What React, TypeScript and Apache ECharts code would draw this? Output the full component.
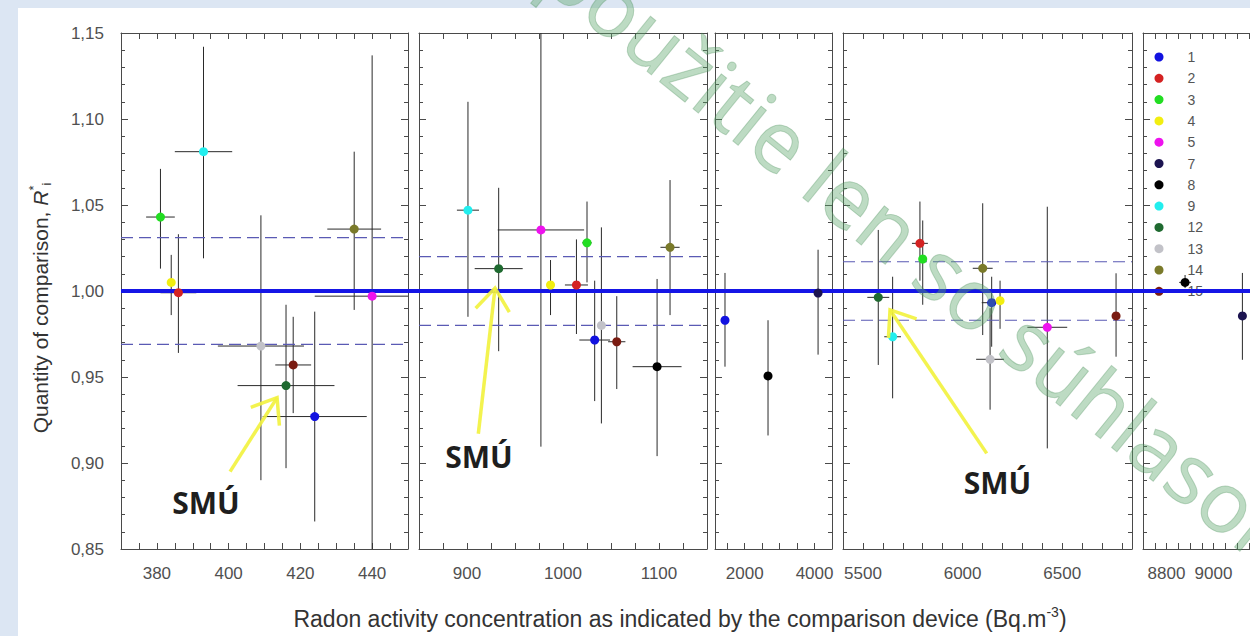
import React, { useEffect, useRef } from "react";
import * as echarts from "echarts";

// ---------------- DATA ----------------
const LABS = ["1", "2", "3", "4", "5", "7", "8", "9", "12", "13", "14", "15"];
const LAB_COLORS: Record<string, string> = {
  "1": "#1212e0",
  "2": "#d42222",
  "3": "#22dd22",
  "4": "#f2ee10",
  "5": "#ee12ee",
  "7": "#1c1450",
  "8": "#000000",
  "9": "#22eeee",
  "12": "#1f6a30",
  "13": "#c2c2c8",
  "14": "#7a7a2a",
  "15": "#7a1c12",
};

// [lab, x, R*, x-uncertainty, R* lower, R* upper]
type Pt = [string, number, number, number, number, number];

const PANEL_1: Pt[] = [
  ["3", 381, 1.043, 4, 1.013, 1.071],
  ["4", 384, 1.005, 0, 0.986, 1.021],
  ["2", 386, 0.999, 5, 0.964, 1.033],
  ["9", 393, 1.081, 8, 1.019, 1.142],
  ["13", 409, 0.968, 12, 0.89, 1.044],
  ["12", 416, 0.945, 13.5, 0.897, 0.992],
  ["15", 418, 0.957, 5, 0.929, 0.985],
  ["1", 424, 0.927, 14.5, 0.866, 0.988],
  ["14", 435, 1.036, 7.5, 0.989, 1.081],
  ["5", 440, 0.997, 16, 0.84, 1.137],
];

const PANEL_2: Pt[] = [
  ["9", 901, 1.047, 11.5, 0.985, 1.11],
  ["12", 933, 1.013, 25, 0.965, 1.06],
  ["5", 977, 1.0355, 45, 0.9095, 1.16],
  ["4", 987, 1.0035, 0, 0.986, 1.018],
  ["2", 1014, 1.0035, 12, 0.975, 1.03],
  ["3", 1025, 1.028, 5, 1.005, 1.052],
  ["1", 1033, 0.9715, 16, 0.936, 1.006],
  ["13", 1040, 0.98, 0, 0.923, 1.037],
  ["15", 1056, 0.9705, 9, 0.943, 0.997],
  ["8", 1098, 0.956, 25.5, 0.904, 1.007],
  ["14", 1111.5, 1.0254, 10, 0.986, 1.0645],
];

const PANEL_3: Pt[] = [
  ["1", 1436, 0.983, 60, 0.956, 1.0105],
  ["8", 2668, 0.9506, 0, 0.916, 0.983],
  ["7", 4101, 0.9988, 0, 0.963, 1.024],
];

const PANEL_4: Pt[] = [
  ["12", 5577, 0.9963, 55, 0.957, 1.0355],
  ["9", 5649, 0.9734, 42, 0.9376, 1.0083],
  ["2", 5786, 1.0277, 40, 1.006, 1.052],
  ["3", 5800, 1.0186, 0, 0.992, 1.041],
  ["14", 6101, 1.0132, 50, 0.9744, 1.051],
  ["13", 6138, 0.9603, 70, 0.931, 0.99],
  ["1", 6146, 0.9932, 50, 0.9676, 1.0083],
  ["4", 6188, 0.9944, 0, 0.978, 1.006],
  ["5", 6425, 0.9789, 100, 0.9085, 1.049],
  ["15", 6770, 0.9855, 0, 0.9618, 1.0103],
];

const PANEL_5: Pt[] = [
  ["8", 8879, 1.005, 25, 1.0017, 1.0093],
  ["7", 9123, 0.9855, 0, 0.96, 1.0105],
];

const PANELS = [PANEL_1, PANEL_2, PANEL_3, PANEL_4, PANEL_5];

// x-axis ranges / ticks of the broken axis
const X_MIN = [370, 850, 1150, 5400, 8700];
const X_MAX = [450, 1150, 4500, 6850, 10000];
const X_TICK_STEP = [5, 25, 0, 100, 50];
const X_LABELS = [
  [380, 400, 420, 440],
  [900, 1000, 1100],
  [2000, 4000],
  [5500, 6000, 6500],
  [8800, 9000],
];

const Y_MIN = 0.85;
const Y_MAX = 1.15;
const Y_STEP = 0.05;

const REFERENCE_VALUE = 1.0;
const LIMITS: (number[] | null)[] = [
  [0.969, 1.031],
  [0.98, 1.02],
  null,
  [0.983, 1.017],
  null,
];

// [panel, tailX, tailY, tipX, tipY, labelX, labelY]
const SMU_ARROWS = [
  [0, 400.4, 0.895, 413.5, 0.938, 393.7, 0.877],
  [1, 911.8, 0.917, 929.2, 1.0017, 912.5, 0.9035],
  [3, 6121, 0.9056, 5636, 0.989, 6175, 0.8884],
];
const SMU_TEXT = "SMÚ";

// ---------------- LAYOUT / STYLE ----------------
const GRID_LEFT = [121, 419, 715, 843, 1143];
const GRID_WIDTH = [287, 288, 117, 289, 305.5];
const GRID_TOP = 33;
const GRID_HEIGHT = 516;
const AXIS_COLOR = "#4a4a4a";
const LABEL_COLOR = "#505050";
const FONT = "'Liberation Sans', Arial, sans-serif";

function buildOption() {
  const grid: any[] = [];
  const xAxis: any[] = [];
  const yAxis: any[] = [];
  const series: any[] = [];

  PANELS.forEach((pts, i) => {
    grid.push({
      left: GRID_LEFT[i],
      top: GRID_TOP,
      width: GRID_WIDTH[i],
      height: GRID_HEIGHT,
      containLabel: false,
      outerBoundsMode: "none",
    });
    const step = X_TICK_STEP[i];
    const xCommon: any = {
      type: "value",
      gridIndex: i,
      min: X_MIN[i],
      max: X_MAX[i],
      ...(step ? { interval: step } : { splitNumber: 7 }),
      splitLine: { show: false },
      axisLine: { show: true, onZero: false, lineStyle: { color: AXIS_COLOR, width: 1 } },
      axisTick: { show: true, inside: true, length: 6, lineStyle: { color: AXIS_COLOR } },
    };
    xAxis.push({
      ...xCommon,
      position: "bottom",
      axisLabel: {
        show: true,
        margin: 16,
        color: LABEL_COLOR,
        fontSize: 17,
        fontFamily: FONT,
        formatter: (v: number) =>
          X_LABELS[i].some((l) => Math.abs(l - v) < 1e-6) ? String(Math.round(v)) : "",
      },
    });
    xAxis.push({ ...xCommon, position: "top", axisLabel: { show: false } });

    const yCommon: any = {
      type: "value",
      gridIndex: i,
      min: Y_MIN,
      max: Y_MAX,
      interval: Y_STEP,
      splitLine: { show: false },
      axisLine: { show: true, onZero: false, lineStyle: { color: AXIS_COLOR, width: 1 } },
      axisTick: { show: true, inside: true, length: 7, lineStyle: { color: AXIS_COLOR } },
      minorTick: { show: true, splitNumber: 5, length: 4, lineStyle: { color: AXIS_COLOR } },
    };
    yAxis.push({
      ...yCommon,
      position: "left",
      axisLabel: {
        show: i === 0,
        margin: 17,
        color: LABEL_COLOR,
        fontSize: 17,
        fontFamily: FONT,
        formatter: (v: number) => v.toFixed(2).replace(".", ","),
      },
    });
    yAxis.push({ ...yCommon, position: "right", axisLabel: { show: false } });

    const xi = 2 * i;
    const xmin = X_MIN[i];
    const xmax = X_MAX[i];

    // error bars
    series.push({
      type: "custom",
      xAxisIndex: xi,
      yAxisIndex: xi,
      silent: true,
      z: 2,
      encode: { x: 0, y: 1 },
      data: pts.map((p) => [p[1], p[2], p[3], p[4], p[5]]),
      renderItem: (_params: any, api: any) => {
        const x = api.value(0);
        const y = api.value(1);
        const xe = api.value(2);
        const ylo = Math.max(Y_MIN, api.value(3));
        const yhi = Math.min(Y_MAX, api.value(4));
        const a = api.coord([x, yhi]);
        const b = api.coord([x, ylo]);
        const children: any[] = [
          {
            type: "line",
            shape: { x1: a[0], y1: a[1], x2: b[0], y2: b[1] },
            style: { stroke: "#2a2a2a", lineWidth: 1 },
          },
        ];
        if (xe > 0) {
          const l = api.coord([Math.max(xmin, x - xe), y]);
          const r = api.coord([Math.min(xmax, x + xe), y]);
          children.push({
            type: "line",
            shape: { x1: l[0], y1: l[1], x2: r[0], y2: r[1] },
            style: { stroke: "#2a2a2a", lineWidth: 1 },
          });
        }
        return { type: "group", children };
      },
    });

    // limit lines
    const lim = LIMITS[i];
    if (lim) {
      lim.forEach((v) =>
        series.push({
          type: "line",
          xAxisIndex: xi,
          yAxisIndex: xi,
          silent: true,
          z: 2,
          symbol: "none",
          data: [
            [xmin, v],
            [xmax, v],
          ],
          lineStyle: { color: "#5a5ab4", width: 1.2, type: [12, 6] },
        })
      );
    }

    // points
    LABS.forEach((lab) => {
      const d = pts.filter((p) => p[0] === lab).map((p) => [p[1], p[2]]);
      if (!d.length) return;
      series.push({
        type: "scatter",
        name: lab,
        xAxisIndex: xi,
        yAxisIndex: xi,
        data: d,
        symbol: "circle",
        symbolSize: 9,
        z: 5,
        itemStyle: { color: LAB_COLORS[lab], opacity: 1 },
      });
    });
  });

  // overlay grid for reference line R* = 1 spanning all panels
  grid.push({
    left: GRID_LEFT[0],
    top: GRID_TOP,
    width: 1250 - GRID_LEFT[0] + 20,
    height: GRID_HEIGHT,
    containLabel: false,
    outerBoundsMode: "none",
  });
  xAxis.push({ type: "value", gridIndex: 5, min: 0, max: 1, show: false });
  yAxis.push({ type: "value", gridIndex: 5, min: Y_MIN, max: Y_MAX, show: false });
  series.push({
    type: "line",
    xAxisIndex: 10,
    yAxisIndex: 10,
    silent: true,
    z: 4,
    symbol: "none",
    data: [
      [0, REFERENCE_VALUE],
      [1, REFERENCE_VALUE],
    ],
    lineStyle: { color: "#1515e6", width: 4 },
  });

  // SMÚ annotations
  SMU_ARROWS.forEach((a) => {
    const p = a[0];
    series.push({
      type: "custom",
      xAxisIndex: 2 * p,
      yAxisIndex: 2 * p,
      silent: true,
      z: 8,
      data: [a.slice(1)],
      renderItem: (_params: any, api: any) => {
        const tail = api.coord([api.value(0), api.value(1)]);
        const tip = api.coord([api.value(2), api.value(3)]);
        const txt = api.coord([api.value(4), api.value(5)]);
        const ang = Math.atan2(tail[1] - tip[1], tail[0] - tip[0]);
        const L = 28;
        const sp = 0.65;
        const w1 = [tip[0] + L * Math.cos(ang + sp), tip[1] + L * Math.sin(ang + sp)];
        const w2 = [tip[0] + L * Math.cos(ang - sp), tip[1] + L * Math.sin(ang - sp)];
        const stroke = "rgba(242,242,60,0.9)";
        return {
          type: "group",
          children: [
            {
              type: "line",
              shape: { x1: tail[0], y1: tail[1], x2: tip[0], y2: tip[1] },
              style: { stroke, lineWidth: 3.5 },
            },
            {
              type: "polyline",
              shape: { points: [w1, tip, w2] },
              style: { stroke, lineWidth: 3.5, fill: "none" },
            },
            {
              type: "text",
              x: txt[0],
              y: txt[1],
              style: {
                text: SMU_TEXT,
                fill: "#1e1e1e",
                fontSize: 30,
                fontWeight: "bold",
                fontFamily: "'Open Sans', sans-serif",
                align: "center",
                verticalAlign: "middle",
              },
            },
          ],
        };
      },
    });
  });

  const graphic: any[] = [
    { type: "rect", z: -20, shape: { x: 0, y: 0, width: 1250, height: 636 }, style: { fill: "#dce6f3" } },
    { type: "rect", z: -19, shape: { x: 18, y: 8, width: 1240, height: 640 }, style: { fill: "#ffffff" } },
    {
      type: "text",
      x: 40,
      y: 308,
      rotation: Math.PI / 2,
      style: {
        text: "Quantity of comparison, {r|R}{s|*}{b|i}",
        fill: "#333",
        fontSize: 21,
        fontFamily: FONT,
        align: "center",
        verticalAlign: "middle",
        rich: {
          r: { fontSize: 21, fontStyle: "italic", fontFamily: FONT, fill: "#333", lineHeight: 26 },
          s: { fontSize: 13, fontFamily: FONT, fill: "#333", verticalAlign: "top", lineHeight: 26 },
          b: { fontSize: 13, fontFamily: FONT, fill: "#333", verticalAlign: "bottom", lineHeight: 26 },
        },
      },
    },
    {
      type: "text",
      x: 680,
      y: 619,
      style: {
        text: "Radon activity concentration as indicated by the comparison device (Bq.m{s|-3})",
        fill: "#333",
        fontSize: 23,
        fontFamily: FONT,
        align: "center",
        verticalAlign: "middle",
        rich: {
          s: { fontSize: 14, fontFamily: FONT, fill: "#333", verticalAlign: "top", lineHeight: 28 },
        },
      },
    },
    {
      type: "text",
      z: 100,
      x: 934,
      y: 262,
      rotation: (-39 * Math.PI) / 180,
      silent: true,
      style: {
        text: "použitie len so súhlasom",
        fill: "rgba(90,165,105,0.4)",
        stroke: "rgba(60,130,75,0.3)",
        lineWidth: 1,
        fontSize: 84,
        fontFamily: "'Open Sans', sans-serif",
        align: "center",
        verticalAlign: "middle",
      },
    },
  ];

  return {
    animation: false,
    backgroundColor: "#ffffff",
    grid,
    xAxis,
    yAxis,
    series,
    graphic,
    legend: {
      data: LABS.map((l) => ({ name: l, icon: "circle" })),
      orient: "vertical",
      left: 1154.5,
      top: 50,
      padding: 0,
      itemWidth: 9,
      itemHeight: 9,
      itemGap: 7.3,
      selectedMode: false,
      textStyle: {
        fontSize: 14,
        color: "#555",
        fontFamily: FONT,
        lineHeight: 14,
        padding: [0, 0, 0, 19],
      },
    },
  };
}

export default function App() {
  const ref = useRef<HTMLDivElement>(null);
  useEffect(() => {
    if (!ref.current) return;
    const chart = echarts.init(ref.current, undefined, { renderer: "svg" });
    chart.setOption(buildOption() as any);
    return () => chart.dispose();
  }, []);
  return (
    <div
      ref={ref}
      style={{ position: "fixed", left: 0, top: 0, width: 1250, height: 636, background: "#fff" }}
    />
  );
}
